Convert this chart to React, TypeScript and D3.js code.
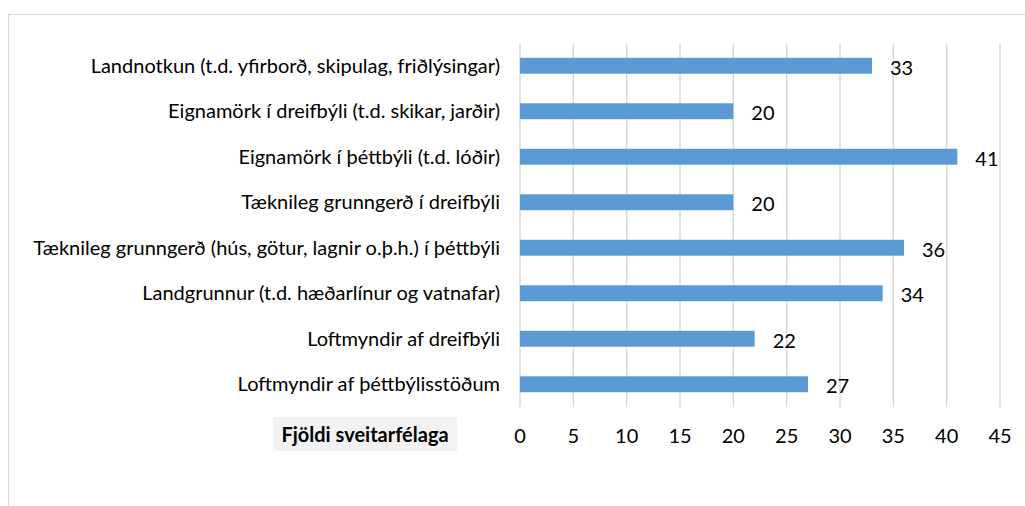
import React from "react";
import * as d3 from "d3";

const categories = [
  "Landnotkun (t.d. yfirborð, skipulag, friðlýsingar)",
  "Eignamörk í dreifbýli (t.d. skikar, jarðir)",
  "Eignamörk í þéttbýli (t.d. lóðir)",
  "Tæknileg grunngerð í dreifbýli",
  "Tæknileg grunngerð (hús, götur, lagnir o.þ.h.) í þéttbýli",
  "Landgrunnur (t.d. hæðarlínur og vatnafar)",
  "Loftmyndir af dreifbýli",
  "Loftmyndir af þéttbýlisstöðum",
];
const values = [33, 20, 41, 20, 36, 34, 22, 27];
const ticks = [0, 5, 10, 15, 20, 25, 30, 35, 40, 45];
const axisTitle = "Fjöldi sveitarfélaga";

const W = 1025;
const H = 506;
const FONT = "Lato, Carlito, Calibri, sans-serif";
const FS = 20;

export default function App() {
  const x = d3.scaleLinear().domain([0, 45]).range([520, 1000]);
  const y = d3
    .scaleBand<string>()
    .domain(categories)
    .range([43, 407])
    .paddingInner(0.65)
    .paddingOuter(0.325);

  return (
    <svg
      width={W}
      height={H}
      style={{ position: "absolute", left: 0, top: 0 }}
      fontFamily={FONT}
    >
      <rect x={0} y={0} width={W} height={H} fill="#fff" />
      <rect x={8.5} y={14.5} width={W + 10} height={H + 10} fill="none" stroke="#D9D9D9" strokeWidth={1} />
      {ticks.map((t) => (
        <line key={t} x1={x(t)} x2={x(t)} y1={43} y2={407} stroke="#D9D9D9" strokeWidth={1.5} />
      ))}
      {categories.map((c, i) => (
        <g key={c}>
          <rect
            x={x(0)}
            y={y(c)}
            width={x(values[i]) - x(0)}
            height={y.bandwidth()}
            fill="#5B9BD5"
          />
          <text
            x={500}
            y={(y(c) as number) + y.bandwidth() / 2}
            dy="0.35em"
            textAnchor="end"
            fontSize={FS}
            fill="#000"
          >
            {c}
          </text>
          <text
            x={x(values[i]) + 18}
            y={(y(c) as number) + y.bandwidth() / 2 + 2}
            dy="0.35em"
            fontSize={FS}
            fill="#000"
          >
            {values[i]}
          </text>
        </g>
      ))}
      {ticks.map((t) => (
        <text key={"t" + t} x={x(t)} y={436} dy="0.35em" textAnchor="middle" fontSize={FS} fill="#000">
          {t}
        </text>
      ))}
      <rect x={273} y={417} width={184} height={34} fill="#F2F2F2" />
      <text x={365} y={435} dy="0.35em" textAnchor="middle" fontSize={FS} fontWeight="bold" fill="#000">
        {axisTitle}
      </text>
    </svg>
  );
}
